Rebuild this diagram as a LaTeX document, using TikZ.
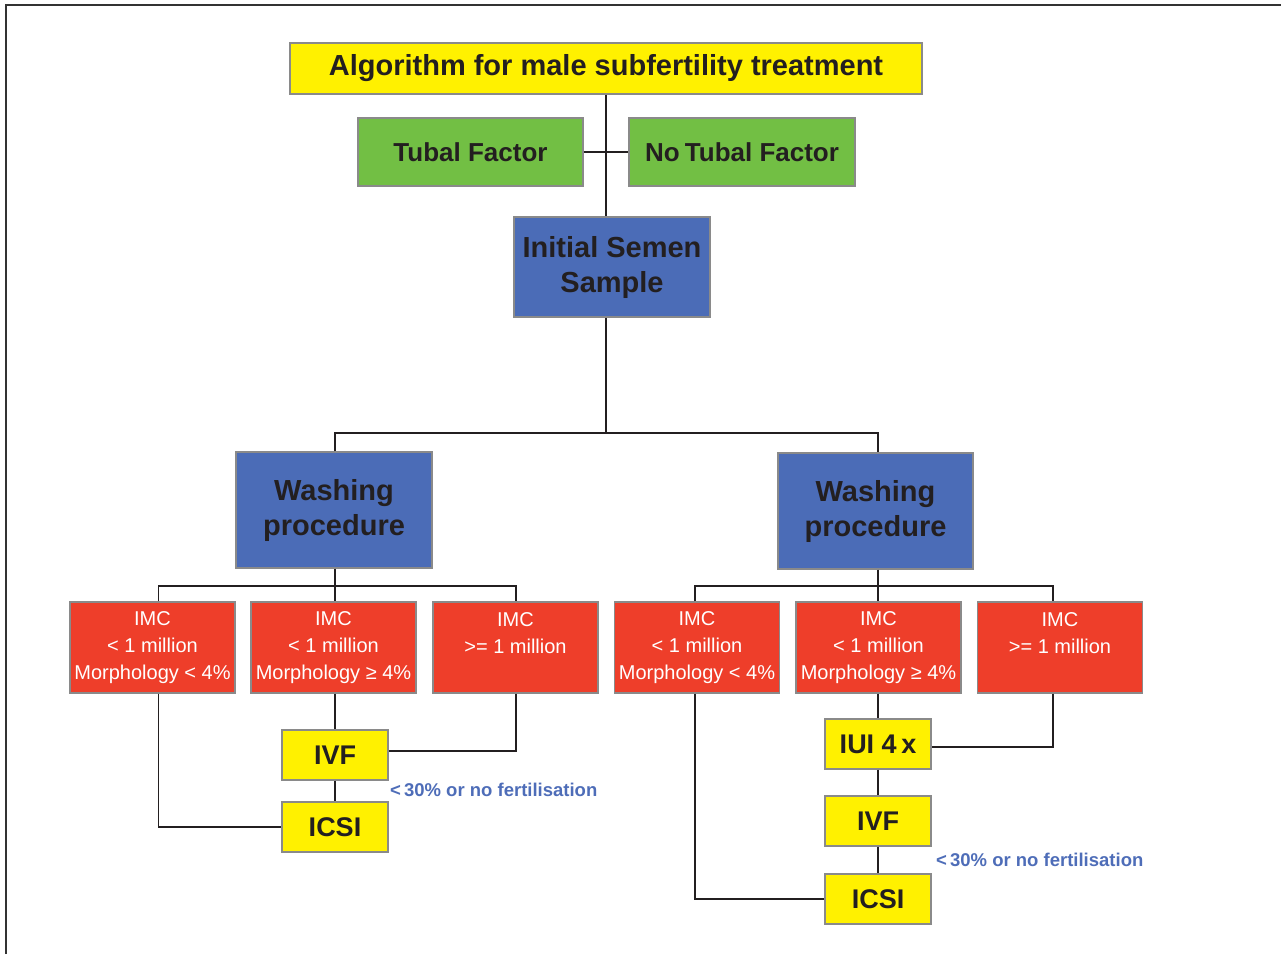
\documentclass[tikz,border=0pt]{standalone}
\usepackage{fontspec}
\setmainfont{Liberation Sans}
\definecolor{ylw}{HTML}{FFF100}
\definecolor{grn}{HTML}{72BF44}
\definecolor{blu}{HTML}{4B6CB7}
\definecolor{rd}{HTML}{EE3E2A}
\definecolor{boxgray}{HTML}{8A8A8A}
\definecolor{txtdark}{HTML}{231F20}
\definecolor{lblblue}{HTML}{4E6DB8}
\definecolor{frame}{HTML}{333333}
\tikzset{
  box/.style={draw=boxgray, line width=1.4pt, inner sep=0pt, align=center, text=txtdark},
  titlebox/.style={box, fill=ylw, minimum width=632pt, minimum height=51pt, font=\fontsize{29}{35}\selectfont\bfseries},
  greenbox/.style={box, fill=grn, minimum width=225pt, minimum height=68pt, font=\fontsize{26}{32}\selectfont\bfseries},
  bluebox/.style={box, fill=blu, minimum width=196pt, minimum height=100pt, font=\fontsize{29}{35}\selectfont\bfseries},
  redbox/.style={box, fill=rd, text=white, minimum width=165pt, minimum height=91pt, font=\fontsize{20}{27}\selectfont},
  ybox/.style={box, fill=ylw, minimum width=106pt, minimum height=50pt, font=\fontsize{27}{32}\selectfont\bfseries},
  conn/.style={draw=txtdark, line width=1.4pt},
  lbl/.style={text=lblblue, inner sep=0pt, anchor=west, font=\fontsize{18.5}{22}\selectfont\bfseries},
}
\begin{document}
\begin{tikzpicture}[x=1pt,y=-1pt]
\useasboundingbox (0,0) rectangle (1281,954);
\draw[frame, line width=2pt] (6,954) -- (6,5) -- (1281,5);

\node[titlebox] (title) at (606,68.5) {Algorithm for male subfertility treatment};
\node[greenbox] (tubal) at (470.5,152) {Tubal Factor};
\node[greenbox, minimum width=226pt] (notubal) at (742,152) {No\kern-2pt{} Tubal Factor};
\node[bluebox] (init) at (612,267) {Initial Semen\\Sample};
\node[bluebox, minimum height=116pt] (wl) at (334,510) {Washing\\procedure};
\node[bluebox, minimum width=195pt, minimum height=116pt] (wr) at (875.5,511) {Washing\\procedure};

\node[redbox] (l1) at (152.5,647.5) {IMC\\< 1 million\\Morphology < 4\%};
\node[redbox] (l2) at (333.5,647.5) {IMC\\< 1 million\\Morphology ≥ 4\%};
\node[redbox] (l3) at (515.5,647.5) {\raisebox{1pt}{IMC}\\\raisebox{1pt}{>= 1 million}\\\phantom{M}};
\node[redbox] (r1) at (697,647.5) {IMC\\< 1 million\\Morphology < 4\%};
\node[redbox] (r2) at (878.5,647.5) {IMC\\< 1 million\\Morphology ≥ 4\%};
\node[redbox] (r3) at (1060,647.5) {\raisebox{1pt}{IMC}\\\raisebox{1pt}{>= 1 million}\\\phantom{M}};

\node[ybox] (ivfl) at (335,755) {IVF};
\node[ybox] (icsil) at (335,827) {ICSI};
\node[ybox] (iui) at (878,744) {IUI 4\,x};
\node[ybox] (ivfr) at (878,821) {IVF};
\node[ybox] (icsir) at (878,899) {ICSI};

\node[lbl] (labl) at (390,790) {<\,30\% or no fertilisation};
\node[lbl] (labr) at (936,860) {<\,30\% or no fertilisation};

\coordinate (j0) at (606,433);
\coordinate (jl) at (335,586);
\coordinate (jr) at (878,586);

\draw[conn] (title.south) -- (title.south |- init.north);
\draw[conn] (tubal.east) -- (notubal.west);
\draw[conn] (init.south -| title.south) -- (j0);
\draw[conn] (wl.north -| jl) |- (j0) -| (wr.north -| jr);
\draw[conn] (wl.south -| jl) -- (jl);
\draw[conn] (wr.south -| jr) -- (jr);
\draw[conn] ([xshift=6pt]l1.north) |- (jl) -| ([xshift=0.5pt]l3.north);
\draw[conn] (jl) -- (jl |- l2.north);
\draw[conn] ([xshift=-2pt]r1.north) |- (jr) -| ([xshift=-7pt]r3.north);
\draw[conn] (jr) -- (jr |- r2.north);

\draw[conn] ([xshift=6pt]l1.south) |- (icsil.west);
\draw[conn] (l2.south -| ivfl.north) -- (ivfl.north);
\draw[conn] (ivfl.south) -- (icsil.north);
\draw[conn] ([xshift=0.5pt]l3.south) |- ([yshift=4pt]ivfl.east);

\draw[conn] ([xshift=-2pt]r1.south) |- (icsir.west);
\draw[conn] (r2.south -| iui.north) -- (iui.north);
\draw[conn] (iui.south) -- (ivfr.north);
\draw[conn] (ivfr.south) -- (icsir.north);
\draw[conn] ([xshift=-7pt]r3.south) |- ([yshift=-3pt]iui.east);
\end{tikzpicture}
\end{document}
